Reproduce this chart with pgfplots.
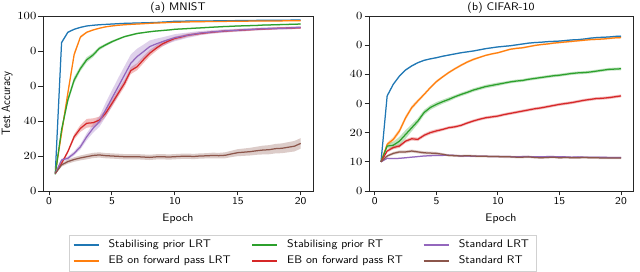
\documentclass[border=0pt]{standalone}
\usepackage{graphicx}
\usepackage{pgfplots}
\usepackage{pgfplotstable}
\pgfplotsset{compat=1.18}
\usepgfplotslibrary{fillbetween}
\definecolor{c0}{RGB}{31,119,180}
\definecolor{c1}{RGB}{255,127,14}
\definecolor{c2}{RGB}{44,160,44}
\definecolor{c3}{RGB}{214,39,40}
\definecolor{c4}{RGB}{148,103,189}
\definecolor{c5}{RGB}{140,86,75}

\pgfplotstableread{
x    b     o     g     r     p     n     sb  so  sg  sr  sp  sn
0.5  10.0  10.0  9.5   10.0  10.0  10.0  0.2 0.3 0.3 0.3 0.3 0.5
1.0  84.8  33.0  35.0  15.8  17.7  14.9  0.8 1.5 1.5 0.8 0.8 1.0
1.5  90.7  56.0  52.0  22.5  18.7  16.8  0.5 2.0 1.8 1.0 1.0 1.2
2.0  92.4  78.0  63.4  31.0  21.5  18.0  0.3 1.5 1.8 1.5 1.2 1.3
2.5  93.5  88.0  70.0  35.8  25.3  18.9  0.3 0.8 1.5 2.0 1.5 1.4
3.0  94.3  90.7  75.0  38.7  31.0  19.6  0.2 0.5 1.5 2.5 2.0 1.5
3.5  94.7  92.0  77.7  39.0  35.8  20.3  0.2 0.4 1.2 2.5 2.5 1.5
4.0  95.0  93.0  81.5  40.5  39.6  20.6  0.2 0.3 1.0 2.0 3.0 1.5
4.5  95.2  93.8  83.5  44.4  46.3  20.2  0.2 0.3 0.8 2.0 4.0 1.5
5.0  95.4  94.3  85.3  50.0  53.0  20.0  0.2 0.3 0.7 2.0 4.5 1.5
5.5  95.6  94.7  86.8  55.8  59.6  19.8  0.2 0.3 0.6 2.0 5.0 1.5
6.0  95.8  95.0  88.2  61.5  66.3  19.6  0.2 0.3 0.5 2.0 5.0 1.5
6.5  95.9  95.2  89.1  68.8  73.0  19.5  0.2 0.3 0.5 2.0 5.0 1.5
7.0  96.0  95.4  90.0  71.0  76.8  19.6  0.2 0.3 0.5 2.0 4.5 1.5
7.5  96.1  95.6  90.5  75.0  79.6  19.4  0.2 0.3 0.4 2.0 4.0 1.5
8.0  96.2  95.8  91.0  78.7  82.5  19.2  0.2 0.3 0.4 1.8 3.5 1.5
8.5  96.3  96.0  91.4  81.5  84.0  19.5  0.2 0.3 0.4 1.6 3.0 1.5
9.0  96.5  96.1  91.7  84.0  85.3  19.6  0.2 0.3 0.4 1.5 2.5 1.5
9.5  96.7  96.3  92.0  85.7  86.5  19.4  0.2 0.3 0.4 1.2 2.2 1.5
10.0 97.0  96.4  92.4  87.2  87.6  19.6  0.2 0.3 0.4 1.0 2.0 1.5
10.5 97.0  96.5  92.6  88.0  88.3  19.8  0.2 0.3 0.4 1.0 1.8 1.5
11.0 97.1  96.6  92.8  89.0  89.0  19.9  0.2 0.3 0.4 0.9 1.5 1.5
11.5 97.1  96.7  93.0  89.5  89.6  19.7  0.2 0.3 0.4 0.8 1.4 1.5
12.0 97.2  96.7  93.2  90.0  90.2  20.0  0.2 0.3 0.4 0.8 1.2 1.5
12.5 97.2  96.8  93.4  90.4  90.6  20.1  0.2 0.3 0.4 0.7 1.1 1.5
13.0 97.2  96.8  93.6  90.8  90.9  20.3  0.2 0.3 0.4 0.7 1.0 1.6
13.5 97.3  96.9  93.8  91.1  91.2  20.2  0.2 0.3 0.4 0.6 1.0 1.6
14.0 97.3  96.9  94.0  91.4  91.5  20.4  0.2 0.3 0.4 0.6 1.0 1.7
14.5 97.3  97.0  94.1  91.6  91.7  21.2  0.2 0.3 0.4 0.6 0.9 1.8
15.0 97.4  97.0  94.3  91.8  91.9  21.9  0.2 0.3 0.4 0.6 0.9 2.0
15.5 97.4  97.0  94.4  92.0  92.1  22.2  0.2 0.3 0.4 0.6 0.9 2.1
16.0 97.4  97.1  94.5  92.2  92.3  22.5  0.2 0.3 0.4 0.6 0.8 2.2
16.5 97.5  97.1  94.6  92.4  92.5  23.0  0.2 0.3 0.4 0.6 0.8 2.3
17.0 97.5  97.1  94.8  92.6  92.7  23.4  0.2 0.3 0.4 0.6 0.8 2.5
17.5 97.5  97.2  94.9  92.7  92.8  23.6  0.2 0.3 0.4 0.6 0.8 2.6
18.0 97.6  97.2  95.0  92.9  92.9  24.2  0.2 0.3 0.4 0.6 0.8 2.7
18.5 97.6  97.2  95.1  93.0  93.0  24.4  0.2 0.3 0.4 0.6 0.8 2.8
19.0 97.6  97.3  95.2  93.1  93.1  25.0  0.2 0.3 0.4 0.6 0.8 2.9
19.5 97.7  97.3  95.3  93.2  93.3  25.6  0.2 0.3 0.4 0.6 0.8 3.0
20.0 97.7  97.3  95.4  93.3  93.5  27.2  0.2 0.3 0.4 0.6 0.8 3.0
}\mnist

\pgfplotstableread{
x    b     o     g     r     p     n     sb  so  sg  sr  sp  sn
0.5  10.0  10.0  10.0  10.0  10.0  10.0  0.1 0.1 0.1 0.1 0.1 0.1
1.0  32.6  16.0  15.4  13.7  11.2  12.0  0.4 0.6 0.8 0.5 0.2 0.4
1.5  36.6  17.7  15.7  14.9  11.1  12.9  0.3 0.8 1.2 0.6 0.2 0.5
2.0  39.4  20.6  17.1  15.4  11.2  13.4  0.3 0.8 1.5 0.6 0.2 0.5
2.5  41.5  25.1  19.4  17.1  11.4  13.4  0.3 0.8 1.5 0.6 0.2 0.5
3.0  42.9  28.6  21.7  17.9  11.6  13.7  0.3 0.7 1.2 0.6 0.2 0.5
3.5  44.0  30.9  24.0  17.7  11.8  13.4  0.2 0.6 1.0 0.6 0.2 0.5
4.0  44.8  33.1  26.9  19.1  12.0  13.1  0.2 0.5 0.9 0.6 0.2 0.5
4.5  45.3  35.4  28.6  20.0  12.1  13.0  0.2 0.5 0.8 0.6 0.2 0.5
5.0  45.7  37.5  29.7  20.6  12.2  12.9  0.2 0.5 0.8 0.6 0.2 0.5
5.5  46.2  39.1  30.6  21.1  12.2  12.6  0.2 0.4 0.7 0.5 0.2 0.4
6.0  46.6  40.6  31.4  21.7  12.3  12.2  0.2 0.4 0.7 0.5 0.2 0.4
6.5  47.0  41.9  32.3  22.0  12.2  12.1  0.2 0.4 0.6 0.5 0.2 0.4
7.0  47.4  43.1  33.1  22.5  12.0  12.0  0.2 0.4 0.6 0.5 0.2 0.4
7.5  47.7  44.2  33.8  23.3  12.0  12.1  0.2 0.4 0.6 0.5 0.2 0.4
8.0  48.0  45.1  34.6  24.0  11.9  12.0  0.2 0.4 0.6 0.5 0.2 0.4
8.5  48.4  45.8  35.2  24.6  11.9  11.9  0.2 0.3 0.6 0.5 0.2 0.4
9.0  48.8  46.5  35.8  25.1  11.9  11.9  0.2 0.3 0.6 0.5 0.2 0.4
9.5  49.1  47.0  36.2  25.4  11.8  11.8  0.2 0.3 0.6 0.5 0.2 0.4
10.0 49.4  47.4  36.6  25.7  11.8  11.8  0.2 0.3 0.6 0.5 0.2 0.4
10.5 49.6  48.0  37.0  26.2  11.8  11.7  0.2 0.3 0.5 0.5 0.2 0.4
11.0 49.8  48.6  37.4  26.6  11.8  11.7  0.2 0.3 0.5 0.5 0.2 0.4
11.5 50.1  48.9  37.7  27.0  11.7  11.6  0.2 0.3 0.5 0.5 0.2 0.4
12.0 50.4  49.1  37.9  27.4  11.8  11.6  0.2 0.3 0.5 0.5 0.2 0.4
12.5 50.7  49.5  38.3  27.8  11.8  11.7  0.2 0.3 0.5 0.5 0.2 0.4
13.0 50.9  49.9  38.6  28.2  11.7  11.5  0.2 0.3 0.5 0.5 0.2 0.4
13.5 51.0  50.2  38.9  28.5  11.7  11.4  0.2 0.3 0.5 0.5 0.2 0.4
14.0 51.2  50.4  39.2  28.9  11.8  11.5  0.2 0.3 0.5 0.5 0.2 0.4
14.5 51.3  50.7  39.5  29.3  11.8  11.6  0.2 0.3 0.5 0.5 0.2 0.4
15.0 51.4  50.9  39.7  29.7  11.7  11.4  0.2 0.3 0.5 0.5 0.2 0.4
15.5 51.6  51.1  40.0  30.0  11.7  11.5  0.2 0.3 0.5 0.5 0.2 0.4
16.0 51.8  51.3  40.3  30.3  11.6  11.4  0.2 0.3 0.5 0.5 0.2 0.4
16.5 51.9  51.5  40.5  30.7  11.7  11.4  0.2 0.3 0.5 0.5 0.2 0.4
17.0 52.1  51.7  40.6  31.1  11.6  11.5  0.2 0.3 0.5 0.5 0.2 0.4
17.5 52.4  51.9  40.8  31.4  11.6  11.4  0.2 0.3 0.5 0.5 0.2 0.4
18.0 52.6  52.0  41.1  31.7  11.6  11.4  0.2 0.3 0.5 0.5 0.2 0.4
18.5 52.7  52.1  41.4  31.8  11.6  11.3  0.2 0.3 0.5 0.5 0.2 0.4
19.0 52.8  52.3  41.7  32.0  11.5  11.3  0.2 0.3 0.5 0.5 0.2 0.4
19.5 53.0  52.5  41.8  32.3  11.5  11.3  0.2 0.3 0.5 0.5 0.2 0.4
20.0 53.1  52.6  41.9  32.6  11.5  11.3  0.2 0.3 0.5 0.5 0.2 0.4
}\cifar

\newcommand{\band}[5]{%
\addplot[name path=#1u#3, draw=none, forget plot] table[x=x, y expr=\thisrow{#3}+\thisrow{#4}] {#2};
\addplot[name path=#1l#3, draw=none, forget plot] table[x=x, y expr=\thisrow{#3}-\thisrow{#4}] {#2};
\addplot[fill=#5, fill opacity=0.3, draw=none, forget plot] fill between[of=#1u#3 and #1l#3];
\addplot[#5, line width=1.25pt, forget plot] table[x=x, y=#3] {#2};
}

\newcommand{\wx}[1]{\scalebox{1.1}[1]{#1}}
\newcommand{\wy}[1]{\scalebox{1.15}[1]{$#1$}}
\newcommand{\labfont}{\fontsize{11}{13}\sffamily}
\pgfplotsset{myax/.style={
  scale only axis, anchor=south west,
  xmin=-0.475, xmax=20.975,
  xtick={0,5,10,15,20}, xticklabels={\wx{0},\wx{5},\wx{10},\wx{15},\wx{20}},
  tick pos=left, tick align=outside, major tick length=4.5pt,
  axis line style={line width=0.9pt, black!85},
  every tick/.style={black!85, line width=0.9pt},
  xticklabel style={font=\fontsize{10.5}{12}\sffamily, inner sep=2pt},
  yticklabel style={font=\fontsize{10.5}{12}\selectfont, inner sep=2pt},
  xlabel={\wx{Epoch}},
  xlabel style={font=\labfont, at={(axis description cs:0.5,-0.16)}, anchor=center},
  ylabel style={font=\labfont, at={(axis description cs:-0.133,0.5)}, anchor=center},
  title style={font=\labfont, at={(axis description cs:0.5,1)}, anchor=south, yshift=-6.5pt},
}}

\begin{document}
\begin{tikzpicture}
\begin{axis}[myax, at={(0pt,0pt)}, width=270pt, height=175pt,
  ymin=0, ymax=100, ytick={0,20,40,60,80,100},
  yticklabels={\wy{0},\wy{20},\wy{40},\wy{0},\wy{0},\wy{100}},
  ylabel={\scalebox{1}[1.1]{Test Accuracy}},
  title={\wx{(a) MNIST}},
  legend columns=3,
  legend cell align=left,
  legend image code/.code={\draw[#1] (0pt,0pt) -- (25pt,0pt);},
  legend style={at={(0.0963,-0.2497)}, anchor=north west, font=\fontsize{11}{13}\sffamily,
    draw=black!18, inner sep=3.6pt, row sep=3.3pt, column sep=0pt,
    nodes={inner xsep=3.8pt, inner ysep=1pt, text height=8.2pt, text depth=2.5pt},
    /tikz/every odd column/.append style={column sep=5.5pt}},
]
\band{A}{\mnist}{b}{sb}{c0}
\band{A}{\mnist}{o}{so}{c1}
\band{A}{\mnist}{g}{sg}{c2}
\band{A}{\mnist}{r}{sr}{c3}
\band{A}{\mnist}{p}{sp}{c4}
\band{A}{\mnist}{n}{sn}{c5}
\addlegendimage{draw=c0, line width=1.5pt}\addlegendentry{\makebox[139pt][l]{\wx{Stabilising prior LRT}}}
\addlegendimage{draw=c2, line width=1.5pt}\addlegendentry{\makebox[132pt][l]{\wx{Stabilising prior RT}}}
\addlegendimage{draw=c4, line width=1.5pt}\addlegendentry{\wx{Standard LRT}}
\addlegendimage{draw=c1, line width=1.5pt}\addlegendentry{\makebox[139pt][l]{\wx{EB on forward pass LRT}}}
\addlegendimage{draw=c3, line width=1.5pt}\addlegendentry{\makebox[132pt][l]{\wx{EB on forward pass RT}}}
\addlegendimage{draw=c5, line width=1.5pt}\addlegendentry{\wx{Standard RT}}
\end{axis}
\begin{axis}[myax, at={(326pt,0pt)}, width=264pt, height=175pt,
  ymin=0, ymax=60, ytick={0,10,20,30,40,50,60},
  yticklabels={\wy{0},\wy{10},\wy{20},\wy{0},\wy{40},\wy{0},\wy{0}},
  title={\wx{(b) CIFAR-10}},
]
\band{B}{\cifar}{b}{sb}{c0}
\band{B}{\cifar}{o}{so}{c1}
\band{B}{\cifar}{g}{sg}{c2}
\band{B}{\cifar}{r}{sr}{c3}
\band{B}{\cifar}{p}{sp}{c4}
\band{B}{\cifar}{n}{sn}{c5}
\end{axis}
\pgfresetboundingbox
\path[use as bounding box] (-43pt,-81pt) rectangle (597pt,191pt);
\end{tikzpicture}
\end{document}
